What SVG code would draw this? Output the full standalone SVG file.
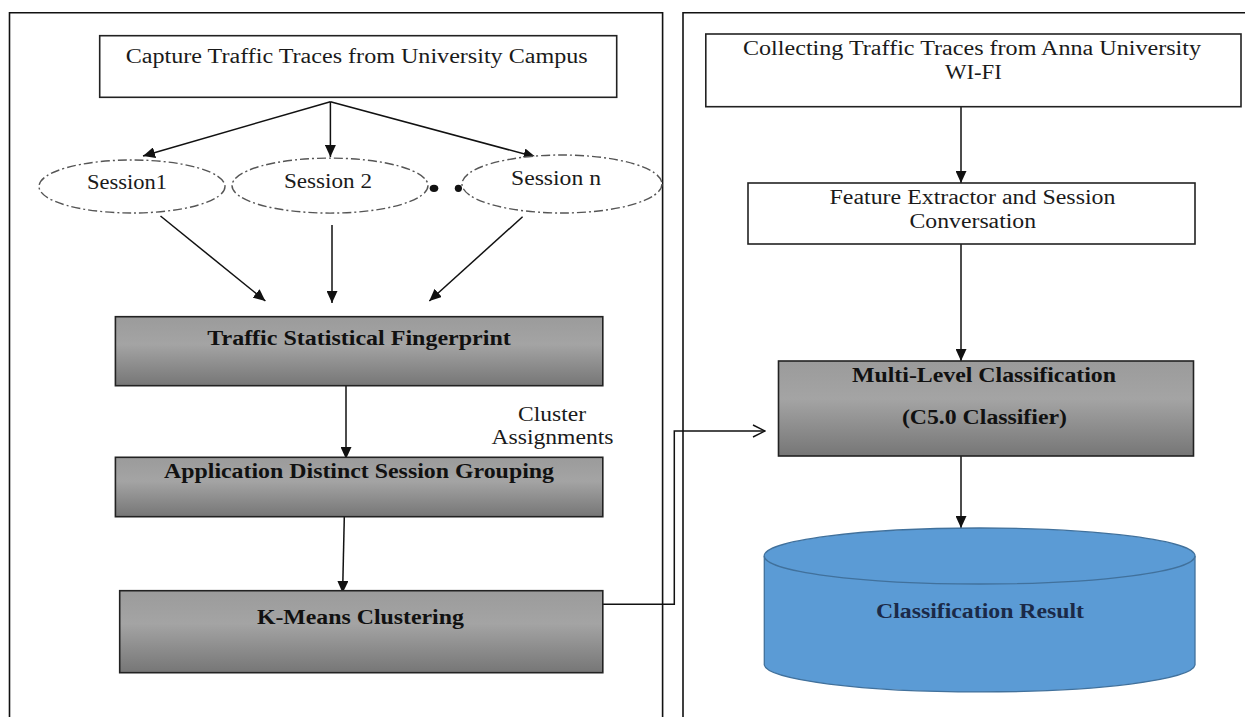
<svg xmlns="http://www.w3.org/2000/svg" width="1245" height="717" viewBox="0 0 1245 717">
  <style>
    .t { font-family: "Liberation Serif", "Times New Roman", serif; font-size: 20px; fill: #1a1a1a; text-anchor: middle; }
    .b { font-weight: bold; fill: #111; }
    .box { fill: #fff; stroke: #222; stroke-width: 1.6; }
    .gbox { fill: url(#gray); stroke: #222; stroke-width: 1.6; }
    .ell { fill: #fff; stroke: #555; stroke-width: 1.4; stroke-dasharray: 9 3 2 3; }
    .panel { fill: none; stroke: #111; stroke-width: 1.6; }
    .c { fill: none; stroke: #111; stroke-width: 1.5; }
  </style>
  <defs>
    <linearGradient id="gray" x1="0" y1="0" x2="0" y2="1">
      <stop offset="0" stop-color="#9b9b9b"/>
      <stop offset="0.4" stop-color="#a4a4a4"/>
      <stop offset="1" stop-color="#767676"/>
    </linearGradient>
    <marker id="ah" markerUnits="userSpaceOnUse" markerWidth="12" markerHeight="11" refX="12" refY="5.5" orient="auto">
      <path d="M0,0 L12,5.5 L0,11 z" fill="#111"/>
    </marker>
    <marker id="oa" markerUnits="userSpaceOnUse" markerWidth="14" markerHeight="14" refX="13" refY="7" orient="auto">
      <path d="M1,1 L13,7 L1,13" fill="none" stroke="#111" stroke-width="1.4"/>
    </marker>
  </defs>

  <g id="panels">
    <path class="panel" d="M9.5,717 L9.5,12.7 L662.6,12.7 L662.6,717"/>
    <path class="panel" d="M683,717 L683,12.7 L1245,12.7"/>
  </g>

  <g id="connectors">
    <line class="c" x1="330.4" y1="101.7" x2="143" y2="156" marker-end="url(#ah)"/>
    <line class="c" x1="330.4" y1="101.7" x2="330.4" y2="157" marker-end="url(#ah)"/>
    <line class="c" x1="330.4" y1="101.7" x2="535.6" y2="157" marker-end="url(#ah)"/>
    <line class="c" x1="160.5" y1="216" x2="265.4" y2="301" marker-end="url(#ah)"/>
    <line class="c" x1="332" y1="225" x2="332" y2="303" marker-end="url(#ah)"/>
    <line class="c" x1="522.6" y1="216.7" x2="429.3" y2="301" marker-end="url(#ah)"/>
    <line class="c" x1="346" y1="386" x2="346" y2="459" marker-end="url(#ah)"/>
    <line class="c" x1="344.3" y1="517" x2="342.6" y2="593" marker-end="url(#ah)"/>
    <polyline class="c" points="603,604.3 674.3,604.3 674.3,431 765,431" marker-end="url(#oa)"/>
    <line class="c" x1="961" y1="107" x2="961" y2="183" marker-end="url(#ah)"/>
    <line class="c" x1="961" y1="244" x2="961" y2="361" marker-end="url(#ah)"/>
    <line class="c" x1="961" y1="456" x2="961" y2="528" marker-end="url(#ah)"/>
  </g>

  <g id="capture">
    <rect class="box" x="99.7" y="35.7" width="517" height="61.6"/>
    <text class="t" x="356.7" y="62.6" textLength="462" lengthAdjust="spacingAndGlyphs">Capture Traffic Traces from University Campus</text>
  </g>

  <g id="session1">
    <ellipse class="ell" cx="132" cy="186.5" rx="93" ry="26.5"/>
    <text class="t" x="127" y="189.3" textLength="80" lengthAdjust="spacingAndGlyphs">Session1</text>
  </g>
  <g id="session2">
    <ellipse class="ell" cx="330" cy="185.6" rx="98" ry="27.5"/>
    <text class="t" x="328" y="188.3" textLength="88" lengthAdjust="spacingAndGlyphs">Session 2</text>
  </g>
  <g id="dots">
    <ellipse cx="434" cy="188.3" rx="4.3" ry="3.6" fill="#111"/>
    <ellipse cx="458.4" cy="188.3" rx="3.6" ry="3.6" fill="#111"/>
  </g>
  <g id="sessionn">
    <ellipse class="ell" cx="562" cy="184" rx="100" ry="29"/>
    <text class="t" x="556" y="184.6" textLength="90" lengthAdjust="spacingAndGlyphs">Session n</text>
  </g>

  <g id="fingerprint">
    <rect class="gbox" x="115.4" y="316.7" width="487.4" height="69"/>
    <text class="t b" x="359" y="345" textLength="303.5" lengthAdjust="spacingAndGlyphs">Traffic Statistical Fingerprint</text>
  </g>

  <g id="cluster-label">
    <text class="t" x="552" y="421" textLength="68" lengthAdjust="spacingAndGlyphs">Cluster</text>
    <text class="t" x="552.5" y="444" textLength="122" lengthAdjust="spacingAndGlyphs">Assignments</text>
  </g>

  <g id="grouping">
    <rect class="gbox" x="115.4" y="457.3" width="487.4" height="59.4"/>
    <text class="t b" x="359" y="478.3" textLength="390" lengthAdjust="spacingAndGlyphs">Application Distinct Session Grouping</text>
  </g>

  <g id="kmeans">
    <rect class="gbox" x="119.7" y="590.7" width="483.1" height="82"/>
    <text class="t b" x="360.4" y="624.3" textLength="207" lengthAdjust="spacingAndGlyphs">K-Means Clustering</text>
  </g>

  <g id="collecting">
    <rect class="box" x="705.8" y="34" width="535.2" height="72.7"/>
    <text class="t" x="972" y="54.6" textLength="458" lengthAdjust="spacingAndGlyphs">Collecting Traffic Traces from Anna University</text>
    <text class="t" x="973.4" y="78.6" textLength="57" lengthAdjust="spacingAndGlyphs">WI-FI</text>
  </g>

  <g id="feature">
    <rect class="box" x="748" y="183" width="447" height="61"/>
    <text class="t" x="972.5" y="204.3" textLength="286" lengthAdjust="spacingAndGlyphs">Feature Extractor and Session</text>
    <text class="t" x="972.8" y="227.6" textLength="126.5" lengthAdjust="spacingAndGlyphs">Conversation</text>
  </g>

  <g id="multilevel">
    <rect class="gbox" x="778.5" y="361" width="415" height="95"/>
    <text class="t b" x="984" y="381.6" textLength="264" lengthAdjust="spacingAndGlyphs">Multi-Level Classification</text>
    <text class="t b" x="984.4" y="423.6" textLength="165" lengthAdjust="spacingAndGlyphs">(C5.0 Classifier)</text>
  </g>

  <g id="result">
    <path d="M764.3,556 L764.3,665 A215.4,27.5 0 0 0 1195,665 L1195,556" fill="#5b9bd5" stroke="#41719c" stroke-width="1.3"/>
    <ellipse cx="979.6" cy="556" rx="215.4" ry="28" fill="#5b9bd5" stroke="#41719c" stroke-width="1.3"/>
    <text class="t b" x="980" y="617.6" textLength="208" lengthAdjust="spacingAndGlyphs" style="fill:#1b2a48">Classification Result</text>
  </g>
</svg>
